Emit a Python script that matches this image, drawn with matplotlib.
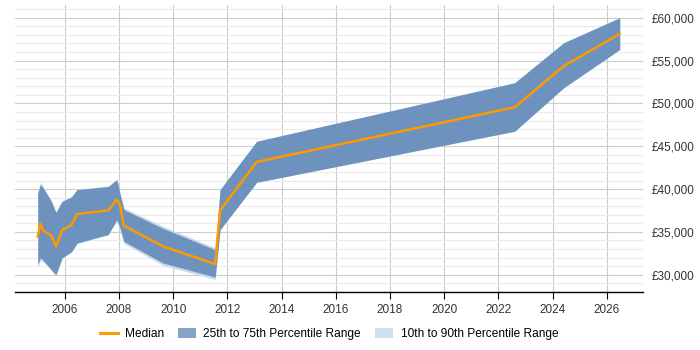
import matplotlib
matplotlib.use("Agg")
import matplotlib.pyplot as plt
from matplotlib.ticker import MultipleLocator, FuncFormatter
from matplotlib.patches import Patch
from matplotlib.lines import Line2D

plt.rcParams['font.family'] = ['Liberation Sans', 'DejaVu Sans']

years = [2005.00, 2005.10, 2005.20, 2005.50, 2005.67, 2005.90, 2006.25, 2006.45,
         2007.60, 2007.92, 2008.03, 2008.18, 2009.63, 2011.55, 2011.73, 2013.08,
         2022.60, 2024.41, 2026.48]
median = [34480, 35960, 35140, 34560, 33310, 35180, 35840, 37090,
          37510, 38770, 38180, 35730, 33310, 31250, 37510, 43170,
          49550, 54350, 58130]
p75 = [39470, 40520, 40130, 38570, 37280, 38570, 39100, 39940,
       40300, 41100, 39550, 37600, 35400, 32920, 39940, 45580,
       52410, 57080, 60000]
p25 = [31170, 31990, 31700, 30600, 30000, 31990, 32700, 33700,
       34700, 36430, 35500, 33890, 31370, 29730, 35260, 40790,
       46750, 51820, 56300]
p90 = [39800, 40800, 40300, 38650, 37300, 38600, 39150, 39960,
       40350, 41150, 39700, 37800, 35650, 33150, 39940, 45580,
       52410, 57080, 60000]
p10 = [30900, 31700, 31500, 30500, 29900, 31900, 32650, 33650,
       34650, 36300, 35300, 33650, 31100, 29450, 35260, 40790,
       46750, 51820, 56300]

fig = plt.figure(figsize=(7, 3.5), dpi=100)
ax = fig.add_axes([0.021, 0.166, 0.898, 0.82])

c_outer = '#c6d9ec'
c_inner = '#6d92bd'
c_med = '#ff9900'

ax.fill_between(years, p10, p90, color=c_outer, lw=0, zorder=2)
ax.fill_between(years, p25, p75, color=c_inner, lw=0, zorder=3)
ax.plot(years, median, color=c_med, lw=1.8, zorder=4)

ax.set_xlim(2004.15, 2027.35)
ax.set_ylim(28000, 61500)

ax.yaxis.tick_right()
ax.yaxis.set_major_locator(MultipleLocator(5000))
ax.yaxis.set_minor_locator(MultipleLocator(1000))
ax.yaxis.set_major_formatter(FuncFormatter(lambda v, p: '£{:,.0f}'.format(v)))
ax.xaxis.set_major_locator(MultipleLocator(2))
ax.xaxis.set_major_formatter(FuncFormatter(lambda v, p: '{:.0f}'.format(v)))

ax.grid(which='major', color='#cccccc', lw=0.8, zorder=0)
ax.grid(which='minor', axis='y', color='#ebebeb', lw=0.8, zorder=0)
ax.set_axisbelow(True)

for s in ['top', 'left', 'right']:
    ax.spines[s].set_visible(False)
ax.spines['bottom'].set_color('#000000')
ax.spines['bottom'].set_linewidth(1)

ax.tick_params(axis='y', which='both', length=0, labelsize=8.5, colors='#333333', pad=6)
ax.tick_params(axis='x', which='major', length=5, color='#000000', labelsize=8.5, labelcolor='#333333')

handles = [Line2D([0], [0], color=c_med, lw=2.2),
           Patch(facecolor='#86a4c6', edgecolor='none'),
           Patch(facecolor='#cfdff0', edgecolor='none')]
labels = ['Median', '25th to 75th Percentile Range', '10th to 90th Percentile Range']
fig.legend(handles, labels, loc='center', bbox_to_anchor=(0.47, 0.045), ncol=3,
           frameon=False, fontsize=8.6, handlelength=1.5, handleheight=0.9,
           columnspacing=1.2, handletextpad=0.6)

fig.savefig('out.png', dpi=100)
